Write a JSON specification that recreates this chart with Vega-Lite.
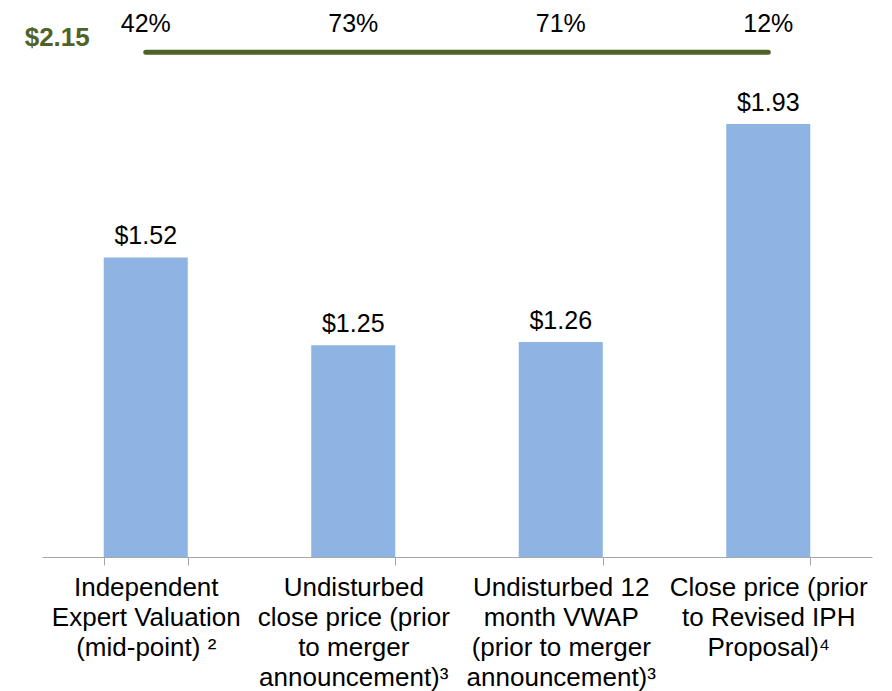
{
  "$schema": "https://vega.github.io/schema/vega-lite/v6.json",
  "width": 830,
  "height": 521,
  "autosize": "none",
  "padding": {"left": 42, "top": 36, "right": 20, "bottom": 134},
  "config": {"view": {"stroke": null}, "font": "Liberation Sans"},
  "datasets": {
    "bars": [
      {"cat": "Independent|Expert Valuation|(mid-point) ²", "value": 1.52, "label": "$1.52", "pct": "42%"},
      {"cat": "Undisturbed|close price (prior|to merger|announcement)³", "value": 1.25, "label": "$1.25", "pct": "73%"},
      {"cat": "Undisturbed 12|month VWAP|(prior to merger|announcement)³", "value": 1.26, "label": "$1.26", "pct": "71%"},
      {"cat": "Close price (prior|to Revised IPH|Proposal)⁴", "value": 1.93, "label": "$1.93", "pct": "12%"}
    ],
    "offer": [
      {"cat": "Independent|Expert Valuation|(mid-point) ²", "cat2": "Close price (prior|to Revised IPH|Proposal)⁴", "value": 2.15, "label": "$2.15"}
    ]
  },
  "layer": [
    {
      "data": {"name": "bars"},
      "mark": {"type": "bar", "color": "#8DB4E2"},
      "encoding": {
        "x": {"field": "cat", "type": "nominal", "sort": null,
          "scale": {"paddingInner": 0.595, "paddingOuter": 0.2975},
          "axis": {"title": null, "labelAngle": 0, "labelExpr": "split(datum.label, '|')",
            "labelFontSize": 26, "labelLineHeight": 30, "labelColor": "#000000", "labelFont": "Liberation Sans",
            "tickBand": "extent", "tickSize": 8, "tickColor": "#A6A6A6", "domainColor": "#A6A6A6",
            "labelPadding": 9, "labelLimit": 0}},
        "y": {"field": "value", "type": "quantitative", "scale": {"domain": [0.6, 2.2], "zero": false}, "axis": null},
        "y2": {"datum": 0.6}
      }
    },
    {
      "data": {"name": "bars"},
      "mark": {"type": "text", "fontSize": 25, "baseline": "bottom", "dy": -8, "color": "#000000"},
      "encoding": {
        "x": {"field": "cat", "type": "nominal", "sort": null},
        "y": {"field": "value", "type": "quantitative"},
        "text": {"field": "label"}
      }
    },
    {
      "data": {"name": "bars"},
      "mark": {"type": "text", "fontSize": 25, "baseline": "middle", "dy": -28, "color": "#000000"},
      "encoding": {
        "x": {"field": "cat", "type": "nominal", "sort": null},
        "y": {"datum": 2.15},
        "text": {"field": "pct"}
      }
    },
    {
      "data": {"name": "offer"},
      "mark": {"type": "rule", "color": "#4F6228", "strokeWidth": 5, "strokeCap": "round"},
      "encoding": {
        "x": {"field": "cat", "type": "nominal", "sort": null},
        "x2": {"field": "cat2"},
        "y": {"field": "value", "type": "quantitative"}
      }
    },
    {
      "data": {"name": "offer"},
      "mark": {"type": "text", "fontSize": 26, "fontWeight": "bold", "align": "right", "baseline": "middle", "dx": -56, "dy": -14, "color": "#4F6228"},
      "encoding": {
        "x": {"field": "cat", "type": "nominal", "sort": null},
        "y": {"field": "value", "type": "quantitative"},
        "text": {"field": "label"}
      }
    }
  ]
}
